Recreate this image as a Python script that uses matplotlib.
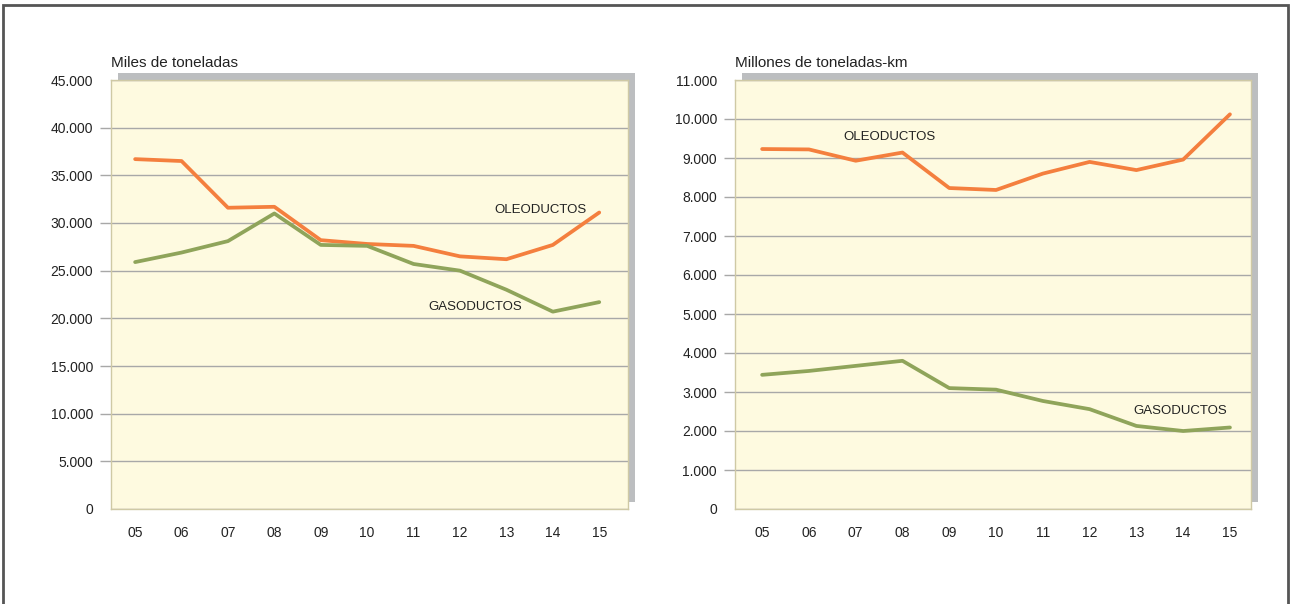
import matplotlib.pyplot as plt
from matplotlib.patches import Rectangle

# --- datos ---
years = ['05', '06', '07', '08', '09', '10', '11', '12', '13', '14', '15']

# Miles de toneladas
ole_ton = [36700, 36500, 31600, 31700, 28200, 27800, 27600, 26500, 26200, 27700, 31100]
gas_ton = [25900, 26900, 28100, 31000, 27700, 27600, 25700, 25000, 23000, 20700, 21700]

# Millones de toneladas-km
ole_tkm = [9230, 9220, 8930, 9140, 8230, 8180, 8600, 8900, 8690, 8960, 10120]
gas_tkm = [3440, 3540, 3670, 3800, 3100, 3060, 2770, 2560, 2130, 2000, 2090]

W, H = 1290, 604
ORANGE = '#F47F3E'
GREEN = '#8FA45A'
YELLOW = '#FEFAE0'
SHADOW = '#BCBEC0'
GRID = '#A8A8A8'

plt.rcParams['font.family'] = ['Liberation Sans', 'DejaVu Sans']

fig = plt.figure(figsize=(W / 100, H / 100), dpi=100)

# marco exterior
fig.patches.append(Rectangle((3 / W, -0.05), 1285 / W, 1.05 - 5 / H,
                             transform=fig.transFigure, fill=False,
                             edgecolor='#555555', lw=2, zorder=-2))


def panel(x0, x1, y0, y1, ole, gas, ymax, step, xlim, title, labels):
    # sombra gris desplazada
    fig.patches.append(Rectangle(((x0 + 7) / W, 1 - (y1 - 7) / H), (x1 - x0) / W, (y1 - y0) / H,
                                 transform=fig.transFigure, facecolor=SHADOW,
                                 edgecolor='none', zorder=-1))
    ax = fig.add_axes([x0 / W, 1 - y1 / H, (x1 - x0) / W, (y1 - y0) / H], zorder=1)
    ax.set_facecolor(YELLOW)
    x = range(len(years))
    ax.plot(x, ole, color=ORANGE, lw=2.7, solid_capstyle='round', zorder=3)
    ax.plot(x, gas, color=GREEN, lw=2.7, solid_capstyle='round', zorder=3)
    ax.set_xlim(*xlim)
    ax.set_ylim(0, ymax)
    yt = list(range(0, ymax + 1, step))
    ax.set_yticks(yt)
    ax.set_yticklabels([f'{v:,}'.replace(',', '.') for v in yt])
    ax.set_xticks(list(x))
    ax.set_xticklabels(years)
    ax.grid(axis='y', color=GRID, lw=1)
    ax.set_axisbelow(True)
    ax.tick_params(axis='y', length=8, width=1, color=GRID, pad=5, labelsize=10, labelcolor='#222222')
    ax.tick_params(axis='x', length=0, pad=12, labelsize=10, labelcolor='#222222')
    ticks = ax.yaxis.get_major_ticks()
    ticks[0].tick1line.set_visible(False)
    ticks[-1].tick1line.set_visible(False)
    for s in ax.spines.values():
        s.set_color('#CFC9A5')
        s.set_linewidth(1)
    fig.text(x0 / W, 1 - 67 / H, title, fontsize=11, color='#222222', va='baseline')
    for txt, (tx, ty) in labels.items():
        ax.text(tx, ty, txt, fontsize=9.5, color='#222222', ha='center', va='center', zorder=4)
    return ax


panel(111, 628, 80, 509, ole_ton, gas_ton, 45000, 5000, (-0.52, 10.62),
      'Miles de toneladas', {'OLEODUCTOS': (8.73, 31370), 'GASODUCTOS': (7.33, 21160)})
panel(735, 1251, 80, 509, ole_tkm, gas_tkm, 11000, 1000, (-0.58, 10.45),
      'Millones de toneladas-km', {'OLEODUCTOS': (2.73, 9530), 'GASODUCTOS': (8.93, 2510)})

fig.savefig('out.png', dpi=100)
